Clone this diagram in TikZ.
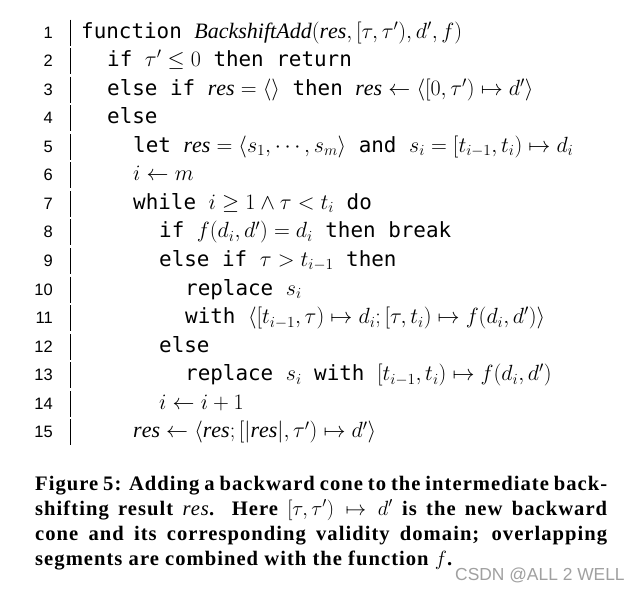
\RequirePackage{fix-cm}
\documentclass[tikz,border=0pt]{standalone}
\usepackage{fontspec}
\setmainfont{Liberation Serif}
\newfontfamily\capfont{Liberation Serif}[LetterSpace=5]
\newfontfamily\kwfont{DejaVu Sans Mono}[Scale=0.95]
\newfontfamily\numfont{Liberation Sans}
\newcommand\kw[1]{{\kwfont\relax#1}}
\definecolor{wmgray}{RGB}{160,160,160}

\begin{document}
\begin{tikzpicture}[x=1pt,y=-1pt,
   every node/.style={inner sep=0pt,anchor=base west},
   num/.style={anchor=base east,font=\numfont\fontsize{16.5}{16.5}\selectfont},
   code/.style={font=\fontsize{22}{22}\selectfont},
   capline/.style={font=\capfont\bfseries\fontsize{20.6}{20.6}\selectfont},
   bar/.style={line width=1pt},
   wm/.style={text=wmgray,font=\numfont\fontsize{17.4}{17.4}\selectfont}]
\useasboundingbox[fill=white] (0,0) rectangle (642,592);

% line numbers and rule
\foreach \k in {1,...,15} {
   \pgfmathsetmacro\c{32+(\k-1)*28.57}
   \node[num] (n\k) at (53,\c+6) {\k};
   \draw[bar] (70,\c-12.5) -- (70,\c+13.5);
}

% listing
\node[code] (l1) at (81,38) {\kw{function }$\mathit{BackshiftAdd}(\mathit{res},[\tau,\tau'),d',f)$};
\node[code] (l2) at (107,66.57) {\kw{if }$\tau'\le 0$\kw{ then return}};
\node[code] (l3) at (107,95.14) {\kw{else if }$\mathit{res}=\langle\rangle$\kw{ then }$\mathit{res}\leftarrow\langle[0,\tau')\mapsto d'\rangle$};
\node[code] (l4) at (107,123.71) {\kw{else}};
\node[code] (l5) at (133,152.28) {\kw{let }$\mathit{res}=\langle s_1,\cdots,s_m\rangle$\kw{ and }$s_i=[t_{i-1},t_i)\mapsto d_i$};
\node[code] (l6) at (133,180.85) {$i\leftarrow m$};
\node[code] (l7) at (133,209.42) {\kw{while }$i\ge 1\land\tau<t_i$\kw{ do}};
\node[code] (l8) at (159,237.99) {\kw{if }$f(d_i,d')=d_i$\kw{ then break}};
\node[code] (l9) at (159,266.56) {\kw{else if }$\tau>t_{i-1}$\kw{ then}};
\node[code] (l10) at (185,295.13) {\kw{replace }$s_i$};
\node[code] (l11) at (185,323.70) {\kw{with }$\langle[t_{i-1},\tau)\mapsto d_i;[\tau,t_i)\mapsto f(d_i,d')\rangle$};
\node[code] (l12) at (159,352.27) {\kw{else}};
\node[code] (l13) at (185,380.84) {\kw{replace }$s_i$\kw{ with }$[t_{i-1},t_i)\mapsto f(d_i,d')$};
\node[code] (l14) at (159,409.41) {$i\leftarrow i+1$};
\node[code] (l15) at (133,437.98) {$\mathit{res}\leftarrow\langle\mathit{res};[|\mathit{res}|,\tau')\mapsto d'\rangle$};

% caption
\node[capline] (cap1) at (35,490) {\makebox[572pt][s]{Figure 5: Adding a backward cone to the intermediate back-}};
\node[capline] (cap2) at (35,515) {\makebox[572pt][s]{shifting result {\mdseries\itshape res}. Here $[\tau,\tau')\mapsto d'$ is the new backward}};
\node[capline] (cap3) at (35,540) {\makebox[572pt][s]{cone and its corresponding validity domain; overlapping}};
\node[capline] (cap4) at (35,565) {segments are combined with the function $f$.};

\node[wm] (mark) at (455,580) {CSDN @ALL 2 WELL};
\end{tikzpicture}
\end{document}
